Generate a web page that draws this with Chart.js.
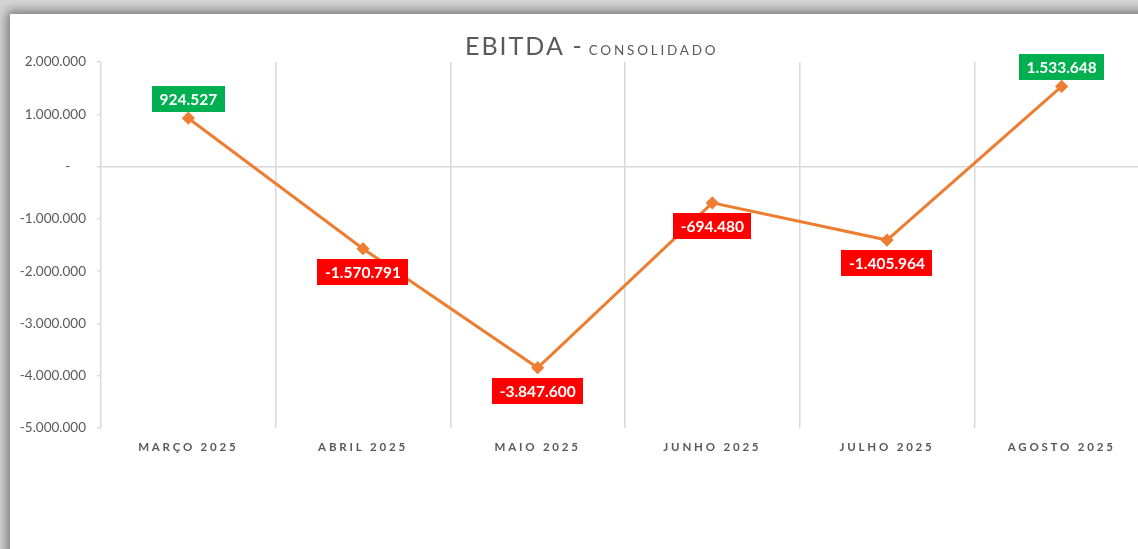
<!DOCTYPE html>
<html>
<head>
<meta charset="utf-8">
<script src="https://cdn.jsdelivr.net/npm/chart.js@4.4.1/dist/chart.umd.min.js"></script>
<style>
  html, body { margin: 0; padding: 0; width: 1138px; height: 549px; overflow: hidden; background: #d4d4d4; }
  #panel {
    position: absolute; left: 10px; top: 14px; width: 1200px; height: 600px;
    background: #fff; box-shadow: -3px -3px 10px rgba(0,0,0,0.45);
  }
  #wrap { position: absolute; left: 0; top: 0; width: 1160px; height: 549px; }
  #title {
    position: absolute; left: 465px; top: 30px; white-space: nowrap;
    font-family: Lato, "Open Sans", sans-serif; color: #595959;
  }
  #title .big { font-size: 25px; letter-spacing: 2px; }
  #title .small { font-size: 13.5px; letter-spacing: 2.8px; margin-left: 5px; }
</style>
</head>
<body>
<div id="panel"></div>
<div id="wrap"><canvas id="chart"></canvas></div>
<div id="title"><span class="big">EBITDA -</span><span class="small">CONSOLIDADO</span></div>
<script>
// --- Data ---
const months = ['MARÇO 2025', 'ABRIL 2025', 'MAIO 2025', 'JUNHO 2025', 'JULHO 2025', 'AGOSTO 2025'];
const ebitda = [924527, -1570791, -3847600, -694480, -1405964, 1533648];
const yTicks = [2000000, 1000000, 0, -1000000, -2000000, -3000000, -4000000, -5000000];

const fmt = new Intl.NumberFormat('pt-BR');
const GRID = '#d9d9d9';

// --- Value boxes (green above / red below) ---
const valueBoxes = {
  id: 'valueBoxes',
  afterDatasetsDraw(chart) {
    const ctx = chart.ctx;
    const meta = chart.getDatasetMeta(0);
    ctx.save();
    ctx.font = 'bold 15.5px Lato, "Open Sans", sans-serif';
    ctx.textAlign = 'center';
    ctx.textBaseline = 'middle';
    meta.data.forEach((pt, i) => {
      const v = chart.data.datasets[0].data[i];
      const txt = fmt.format(v);
      const w = ctx.measureText(txt).width + 15;
      const h = 26;
      const top = v >= 0 ? pt.y - 6 - h : pt.y + 10;
      ctx.fillStyle = v >= 0 ? '#00b050' : '#ff0000';
      ctx.fillRect(Math.round(pt.x - w / 2), Math.round(top), Math.round(w), h);
      ctx.fillStyle = '#fff';
      ctx.fillText(txt, pt.x, top + h / 2 + 1);
    });
    ctx.restore();
  }
};

// --- Letter spacing on the month labels ---
const spacedLabels = {
  id: 'spacedLabels',
  beforeDraw(chart) {
    const s = chart.scales.x;
    if (s._spaced) return;
    const orig = s.drawLabels;
    s.drawLabels = function (area) {
      chart.ctx.save();
      chart.ctx.letterSpacing = '2.8px';
      orig.call(this, area);
      chart.ctx.restore();
    };
    s._spaced = true;
  }
};

new Chart(document.getElementById('chart'), {
  type: 'line',
  data: {
    labels: months,
    datasets: [{
      data: ebitda,
      borderColor: '#ed7d31',
      backgroundColor: '#ed7d31',
      borderWidth: 3,
      pointStyle: 'rectRot',
      pointRadius: 4.5,
      pointHoverRadius: 4.5,
      tension: 0,
      fill: false,
    }]
  },
  plugins: [valueBoxes, spacedLabels],
  options: {
    animation: false,
    responsive: true,
    maintainAspectRatio: false,
    layout: { padding: { top: 62, right: 11, left: 0, bottom: 0 } },
    plugins: { legend: { display: false }, tooltip: { enabled: false } },
    scales: {
      x: {
        offset: true,
        grid: { offset: true, color: GRID, lineWidth: 1.5, drawTicks: false },
        border: { display: false },
        ticks: {
          color: '#595959',
          padding: 12,
          maxRotation: 0,
          font: { family: 'Lato, "Open Sans", sans-serif', size: 11.5, weight: 'bold' }
        },
        afterFit(scale) { scale.height = 549 - 428; }
      },
      y: {
        min: -5000000,
        max: 2000000,
        afterBuildTicks(scale) { scale.ticks = yTicks.map(v => ({ value: v })); },
        grid: {
          color: c => (c.tick && c.tick.value === 0 ? GRID : 'transparent'),
          tickColor: GRID,
          lineWidth: 1.5,
          tickLength: 4,
        },
        border: { display: false },
        ticks: {
          color: '#595959',
          padding: 11,
          font: { family: 'Lato, "Open Sans", sans-serif', size: 13.5 },
          callback: v => (v === 0 ? '-\u2007\u2007' : fmt.format(v))
        },
        afterFit(scale) { scale.width = 101; }
      }
    }
  }
});
</script>
</body>
</html>
